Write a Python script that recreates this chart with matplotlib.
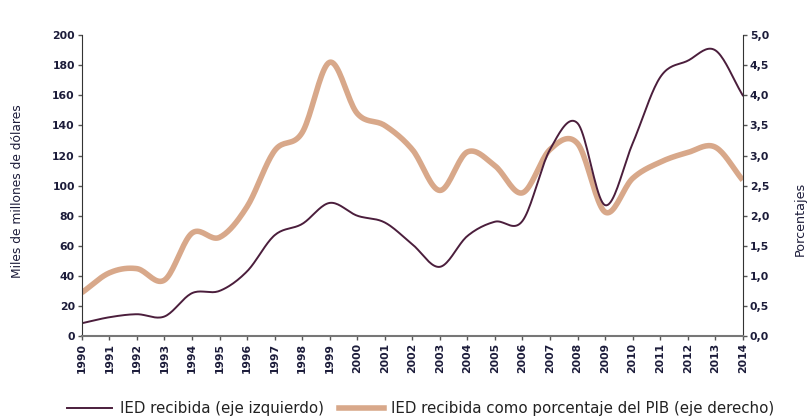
import numpy as np
import matplotlib
matplotlib.use("Agg")
import matplotlib.pyplot as plt
from matplotlib.lines import Line2D

years = list(range(1990, 2015))
ied = [8.5, 12.5, 14.5, 13, 28.5, 30, 43, 67, 74.5, 88.5, 80, 75.5, 61, 46, 66.5, 76, 76.5, 124, 141.5, 87, 128, 172, 183, 190, 160]
pct = [0.72, 1.05, 1.12, 0.93, 1.71, 1.64, 2.15, 3.08, 3.38, 4.55, 3.7, 3.5, 3.1, 2.42, 3.06, 2.83, 2.38, 3.1, 3.2, 2.06, 2.62, 2.89, 3.05, 3.14, 2.59]

left_ticks = list(range(0, 201, 20))
right_ticks = [0, 0.5, 1, 1.5, 2, 2.5, 3, 3.5, 4, 4.5, 5]
right_labels = ["0,0", "0,5", "1,0", "1,5", "2,0", "2,5", "3,0", "3,5", "4,0", "4,5", "5,0"]

def smooth(x, y, n=20):
    x = np.asarray(x, float); y = np.asarray(y, float)
    px = np.concatenate([[2*x[0]-x[1]], x, [2*x[-1]-x[-2]]])
    py = np.concatenate([[2*y[0]-y[1]], y, [2*y[-1]-y[-2]]])
    xs, ys = [], []
    t = np.linspace(0, 1, n, endpoint=False)
    for i in range(1, len(px)-2):
        p0, p1, p2, p3 = py[i-1], py[i], py[i+1], py[i+2]
        q0, q1, q2, q3 = px[i-1], px[i], px[i+1], px[i+2]
        ys.append(0.5*((2*p1) + (-p0+p2)*t + (2*p0-5*p1+4*p2-p3)*t**2 + (-p0+3*p1-3*p2+p3)*t**3))
        xs.append(0.5*((2*q1) + (-q0+q2)*t + (2*q0-5*q1+4*q2-q3)*t**2 + (-q0+3*q1-3*q2+q3)*t**3))
    xs.append([x[-1]]); ys.append([y[-1]])
    return np.concatenate(xs), np.concatenate(ys)

dark = "#4b1e3c"
light = "#d8a88a"
tickc = "#1c1c3a"

fig = plt.figure(figsize=(8.1, 4.19), dpi=100)
ax = fig.add_axes([0.101, 0.198, 0.816, 0.718])
ax2 = ax.twinx()

sx, sy = smooth(years, pct)
ax2.plot(sx, sy, color=light, lw=4.0, solid_capstyle="butt")
sx, sy = smooth(years, ied)
ax.plot(sx, sy, color=dark, lw=1.4)
ax.set_zorder(ax2.get_zorder() + 1)
ax.patch.set_visible(False)

ax.set_xlim(1990, 2014)
ax.set_ylim(0, 200)
ax2.set_ylim(0, 5)
ax.set_yticks(left_ticks)
ax2.set_yticks(right_ticks)
ax2.set_yticklabels(right_labels)
ax.set_xticks(years)
ax.set_xticklabels([str(y) for y in years], rotation=90)

for a in (ax, ax2):
    a.spines["top"].set_visible(False)
    a.tick_params(labelsize=7.8, colors="#555555", labelcolor=tickc, length=3, width=1, direction="out", pad=2)
    for lab in a.get_yticklabels() + a.get_xticklabels():
        lab.set_fontweight("bold")
ax.spines["left"].set_color("#333333")
ax.spines["bottom"].set_color("#777777")
ax.spines["bottom"].set_linewidth(1.5)
ax2.spines["right"].set_color("#333333")
ax2.spines["left"].set_visible(False)
ax2.spines["bottom"].set_visible(False)
ax.spines["right"].set_visible(False)

fig.text(0.022, 0.545, "Miles de millones de dólares", rotation=90, ha="center", va="center",
         fontsize=8.8, color=tickc)
fig.text(0.988, 0.477, "Porcentajes", rotation=90, ha="center", va="center",
         fontsize=9.2, color=tickc)

handles = [Line2D([], [], color=dark, lw=1.4), Line2D([], [], color=light, lw=4.0)]
labels = ["IED recibida (eje izquierdo)", "IED recibida como porcentaje del PIB (eje derecho)"]
fig.legend(handles, labels, loc="center left", bbox_to_anchor=(0.083, 0.025), ncol=2,
           frameon=False, fontsize=10.8, handlelength=3.0, columnspacing=1.0, handletextpad=0.5,
           labelcolor="#222222", borderaxespad=0, borderpad=0)

fig.savefig("out.png", dpi=100)
